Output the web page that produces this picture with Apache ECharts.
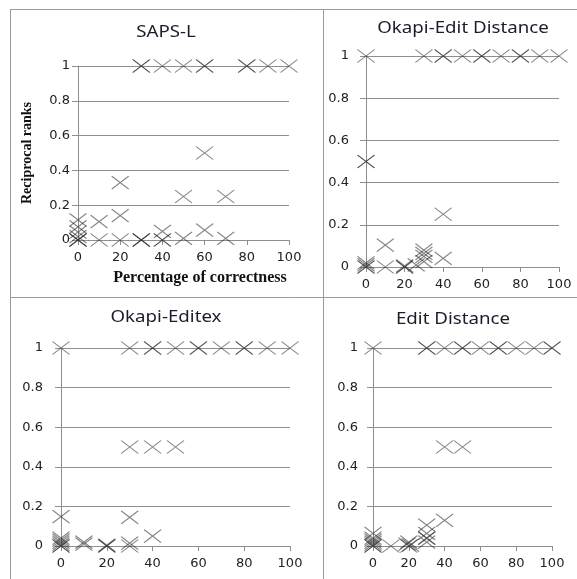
<!DOCTYPE html>
<html>
<head>
<meta charset="utf-8">
<script src="https://cdn.jsdelivr.net/npm/echarts@6/dist/echarts.min.js"></script>
<style>
  html, body { margin: 0; padding: 0; background: #fff; }
  #chart { width: 577px; height: 579px; }
</style>
</head>
<body>
<div id="chart"></div>
<script>
// panel titles, in order: top-left, top-right, bottom-left, bottom-right
const panelTitles = ['SAPS-L', 'Okapi-Edit Distance', 'Okapi-Editex', 'Edit Distance']
const xName = 'Percentage of correctness'
const yName = 'Reciprocal ranks'

// [percentage of correctness, reciprocal rank]; repeated points make darker crosses
const sapsL = [
  [30, 1], [30, 1], [40, 1], [50, 1], [60, 1], [60, 1], [80, 1], [80, 1], [90, 1], [100, 1],
  [60, 0.5], [20, 0.33], [50, 0.25], [70, 0.25], [20, 0.14],
  [0, 0.115], [10, 0.105], [0, 0.075], [0, 0.045], [60, 0.057], [40, 0.05],
  [0, 0.02], [0, 0], [0, 0], [0, 0], [10, 0], [20, 0], [30, 0], [30, 0], [30, 0],
  [40, 0], [40, 0], [50, 0.01], [70, 0.01]
]
const okapiEditDistance = [
  [0, 1], [30, 1], [40, 1], [40, 1], [50, 1], [60, 1], [60, 1], [70, 1], [80, 1], [80, 1], [90, 1], [100, 1],
  [0, 0.5], [0, 0.5], [40, 0.25], [10, 0.104], [30, 0.08], [30, 0.065], [30, 0.05], [30, 0.025], [40, 0.041],
  [0, 0.02], [0, 0.01], [0, 0], [0, 0], [10, 0], [20, 0], [20, 0], [20, 0.005], [26, 0.01]
]
const okapiEditex = [
  [0, 1], [30, 1], [40, 1], [40, 1], [50, 1], [60, 1], [60, 1], [70, 1], [80, 1], [80, 1], [90, 1], [100, 1],
  [30, 0.5], [40, 0.5], [50, 0.5], [0, 0.148], [30, 0.145], [40, 0.05],
  [0, 0.04], [0, 0.03], [0, 0.02], [0, 0.01], [0, 0], [0, 0],
  [10, 0.02], [10, 0.01], [20, 0], [20, 0], [20, 0.005], [30, 0.015], [30, 0]
]
const editDistance = [
  [0, 1], [30, 1], [30, 1], [40, 1], [50, 1], [50, 1], [60, 1], [70, 1], [70, 1], [80, 1], [90, 1], [100, 1], [100, 1],
  [40, 0.5], [50, 0.5], [40, 0.13], [30, 0.106], [30, 0.064], [30, 0.04], [30, 0.04],
  [0, 0.064], [0, 0.04], [0, 0.03], [0, 0.02], [0, 0.01], [0, 0], [0, 0],
  [10, 0], [19, 0.01], [20, 0.02], [21, 0.005], [20, 0], [30, 0.02]
]
const panelData = [sapsL, okapiEditDistance, okapiEditex, editDistance]

// plot area of each panel, in pixels
const plots = [
  { left: 78, top: 66, width: 211, height: 174, yMargin: 8 },
  { left: 366, top: 56, width: 193, height: 211, yMargin: 17 },
  { left: 61, top: 348, width: 229, height: 198, yMargin: 18 },
  { left: 373, top: 348, width: 179, height: 198, yMargin: 15 }
]
const titlePos = [[166, 32], [463, 28], [166, 317], [453, 319]]

const axisGrey = '#8e8e8e'
const cross = 'path://M0,0L16,12M0,12L16,0'

const chart = echarts.init(document.getElementById('chart'), null, { renderer: 'canvas' })

const grid = plots.map(p => ({
  left: p.left, top: p.top, width: p.width, height: p.height,
  containLabel: false, outerBoundsMode: 'none'
}))

const xAxis = plots.map((p, i) => ({
  type: 'value', gridIndex: i, min: 0, max: 100, interval: 20,
  splitLine: { show: false },
  axisLine: { show: true, lineStyle: { color: axisGrey, width: 1 } },
  axisTick: { show: true, length: 5, lineStyle: { color: axisGrey } },
  axisLabel: { color: '#222', fontFamily: 'DejaVu Sans', fontSize: 13, margin: 11 },
  name: i === 0 ? xName : '',
  nameLocation: 'middle',
  nameGap: 30,
  nameTextStyle: {
    fontFamily: 'Liberation Serif', fontWeight: 'bold', fontSize: 16, color: '#111',
    padding: [0, 0, 0, 33]
  }
}))

const yAxis = plots.map((p, i) => ({
  type: 'value', gridIndex: i, min: 0, max: 1, interval: 0.2,
  splitLine: { show: true, lineStyle: { color: axisGrey, width: 1 } },
  axisLine: { show: true, lineStyle: { color: axisGrey, width: 1 } },
  axisTick: { show: true, length: 6, lineStyle: { color: axisGrey } },
  axisLabel: { color: '#222', fontFamily: 'DejaVu Sans', fontSize: 13, margin: p.yMargin },
  name: i === 0 ? yName : '',
  nameLocation: 'middle',
  nameGap: 44,
  nameTextStyle: { fontFamily: 'Liberation Serif', fontWeight: 'bold', fontSize: 14, color: '#111' }
}))

const series = panelData.map((d, i) => ({
  type: 'scatter', xAxisIndex: i, yAxisIndex: i, data: d,
  symbol: cross, symbolSize: [17, 13],
  itemStyle: { color: 'rgba(0,0,0,0)', borderColor: 'rgba(35,35,35,0.55)', borderWidth: 1.2, opacity: 1 },
  silent: true
}))

// panel frame lines and titles
const frame = [
  [10, 9.5, 577, 9.5], [10.5, 9, 10.5, 579], [323.5, 9, 323.5, 579], [10, 297.5, 577, 297.5]
].map(l => ({
  type: 'line', silent: true,
  shape: { x1: l[0], y1: l[1], x2: l[2], y2: l[3] },
  style: { stroke: '#9a9a9a', lineWidth: 1 }
}))
const titles = panelTitles.map((t, i) => ({
  type: 'text', silent: true, x: titlePos[i][0], y: titlePos[i][1], scaleX: 1.1,
  style: {
    text: t, align: 'center', verticalAlign: 'middle',
    fontFamily: 'Noto Sans', fontSize: 17, fill: '#1b1b2b'
  }
}))

chart.setOption({
  animation: false,
  backgroundColor: '#fff',
  grid, xAxis, yAxis, series,
  graphic: frame.concat(titles)
})
</script>
</body>
</html>
